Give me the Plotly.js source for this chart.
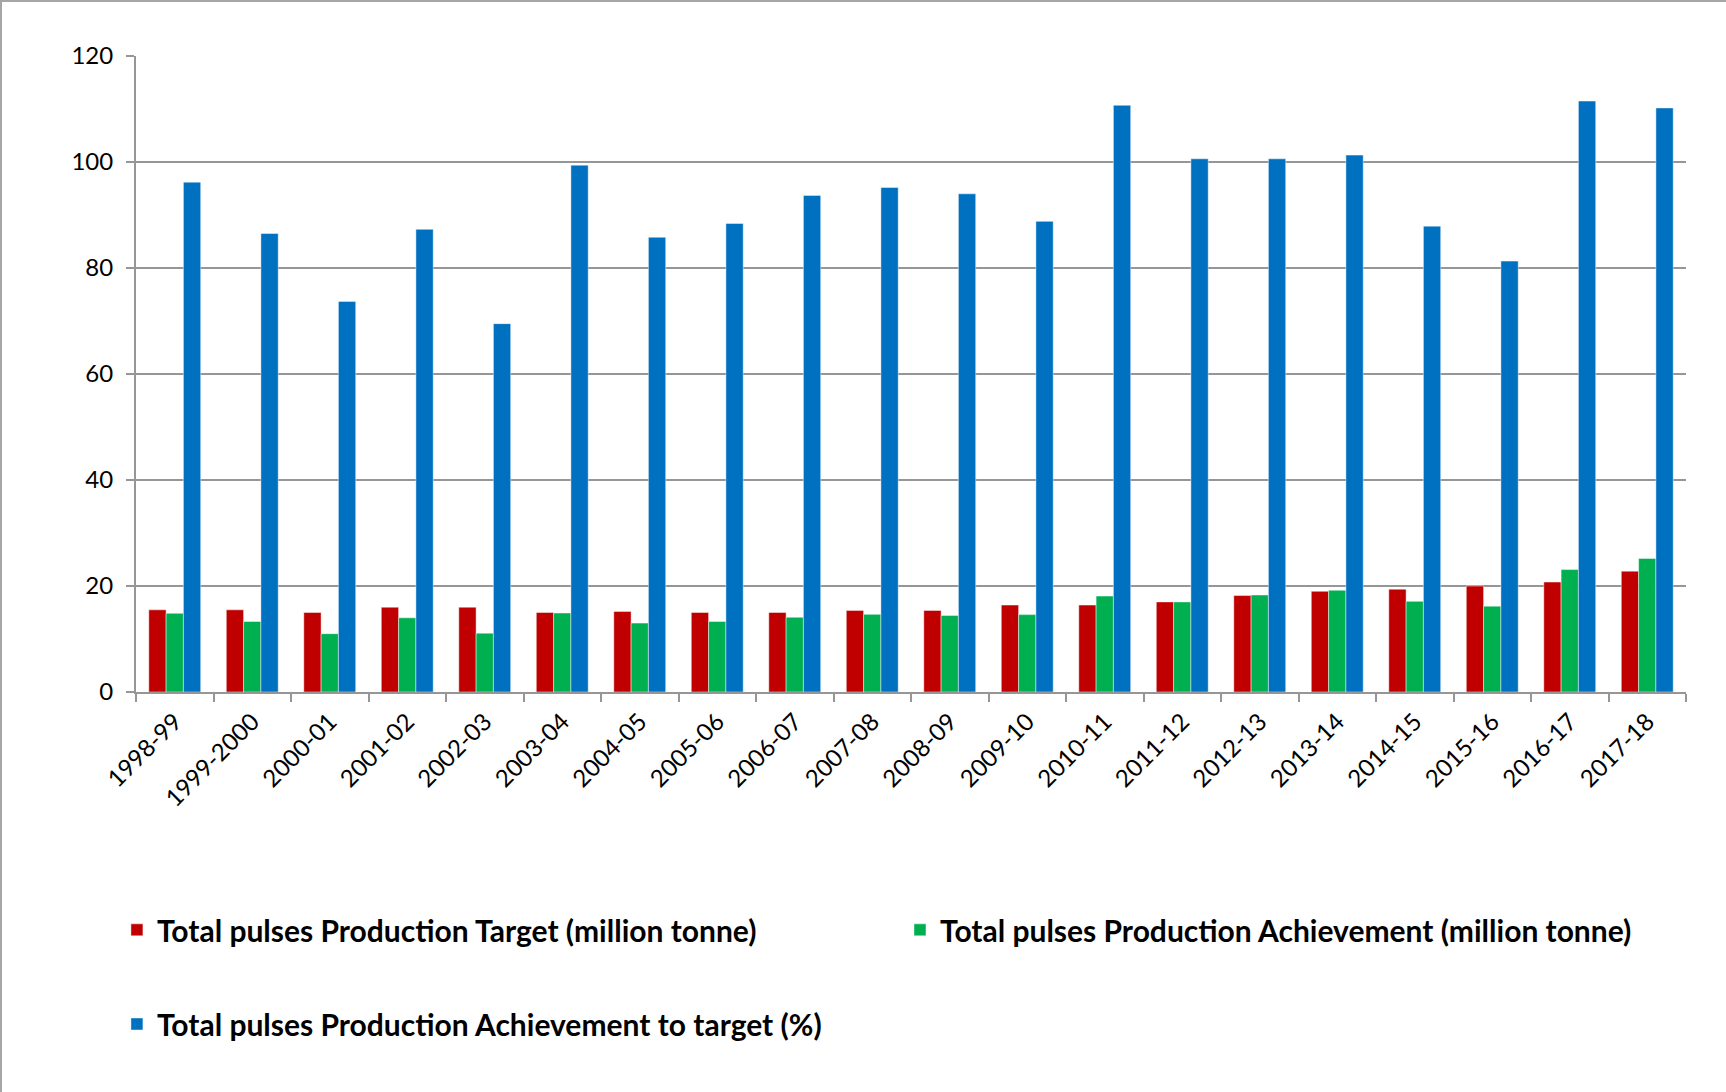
<!DOCTYPE html>
<html>
<head>
<meta charset="utf-8">
<script src="https://cdn.plot.ly/plotly-3.0.1.min.js"></script>
<style>
  html, body { margin: 0; padding: 0; background: #fff; }
  #chart { width: 1726px; height: 1092px; }
  #frame { position: absolute; left: 0; top: 0; width: 1726px; height: 1092px;
           border-left: 2px solid #a6a6a6; border-top: 2px solid #a6a6a6;
           box-sizing: border-box; pointer-events: none; }
</style>
</head>
<body>
<div id="chart"></div>
<div id="frame"></div>
<script>
const years = ["1998-99","1999-2000","2000-01","2001-02","2002-03","2003-04","2004-05","2005-06","2006-07","2007-08","2008-09","2009-10","2010-11","2011-12","2012-13","2013-14","2014-15","2015-16","2016-17","2017-18"];
const targetMt = [15.5,15.5,15.0,16.0,16.0,15.0,15.2,15.0,15.0,15.4,15.4,16.4,16.4,17.0,18.2,19.0,19.4,20.0,20.75,22.8];
const achievementMt = [14.85,13.3,11.0,14.0,11.1,14.9,13.0,13.3,14.1,14.65,14.45,14.6,18.1,17.0,18.3,19.2,17.1,16.2,23.1,25.2];
const achievementPct = [96.2,86.5,73.7,87.3,69.5,99.4,85.8,88.4,93.7,95.2,94.0,88.8,110.7,100.6,100.6,101.3,87.9,81.3,111.5,110.2];
const seriesNames = ["Total pulses Production Target (million tonne)","Total pulses Production Achievement (million tonne)","Total pulses Production Achievement to target (%)"];
const seriesColors = ["#C00000","#00B050","#0070C0"];
const yTicks = [0,20,40,60,80,100,120];

const outline = {width: 1, color: "rgba(255,255,255,0.45)"};
const traces = [
  {type: "bar", x: years, y: targetMt, name: seriesNames[0], marker: {color: seriesColors[0], line: outline}, legend: "legend"},
  {type: "bar", x: years, y: achievementMt, name: seriesNames[1], marker: {color: seriesColors[1], line: outline}, legend: "legend2"},
  {type: "bar", x: years, y: achievementPct, name: seriesNames[2], marker: {color: seriesColors[2], line: outline}, legend: "legend3"}
];

const gridCol = "#969696";
const legendFont = {family: "Lato, 'Open Sans', sans-serif", size: 30, color: "#000", weight: 700};
const legendBase = {orientation: "v", bgcolor: "rgba(0,0,0,0)", borderwidth: 0, font: legendFont, yanchor: "middle", xanchor: "left", itemwidth: 30};

const layout = {
  width: 1726, height: 1092,
  paper_bgcolor: "#fff", plot_bgcolor: "#fff",
  margin: {l: 136, r: 40, t: 56, b: 400, autoexpand: false},
  barmode: "group", bargap: 0.33, bargroupgap: 0,
  font: {family: "Lato, 'Open Sans', sans-serif", size: 24, color: "#000"},
  xaxis: {
    type: "category", tickangle: -45, tickson: "boundaries", ticks: "outside", ticklen: 8,
    tickcolor: gridCol, tickwidth: 2, showline: true, linecolor: gridCol, linewidth: 2,
    showgrid: false, tickfont: {size: 24, color: "#000"}, ticklabelstandoff: 4
  },
  yaxis: {
    range: [0, 120], tickvals: yTicks, ticks: "outside", ticklen: 8, tickcolor: gridCol, tickwidth: 2,
    showline: true, linecolor: gridCol, linewidth: 2, showgrid: true, gridcolor: gridCol, gridwidth: 2,
    zeroline: false, tickfont: {size: 24, color: "#000"}, ticklabelstandoff: 8
  },
  showlegend: true,
  legend: Object.assign({}, legendBase, {x: -0.0123, y: -0.374}),
  legend2: Object.assign({}, legendBase, {x: 0.4929, y: -0.374}),
  legend3: Object.assign({}, legendBase, {x: -0.0123, y: -0.522})
};

Plotly.newPlot("chart", traces, layout, {displayModeBar: false, staticPlot: true});
</script>
</body>
</html>
